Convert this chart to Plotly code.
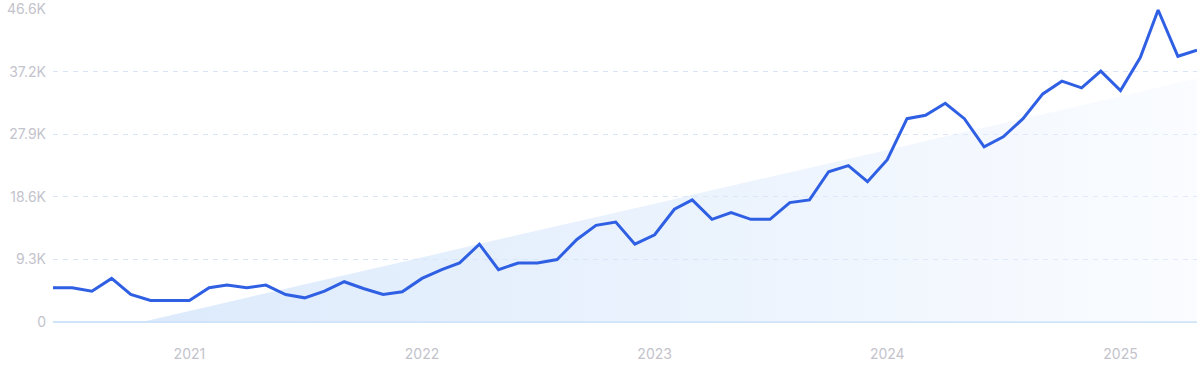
import numpy as np
import pandas as pd
import plotly.graph_objects as go

months = pd.date_range("2020-06-01", "2025-05-01", freq="MS")
values_k = [
    5.1, 5.1, 4.6, 6.5, 4.1, 3.2, 3.2, 3.2, 5.1, 5.5,
    5.1, 5.5, 4.1, 3.6, 4.6, 6.0, 5.0, 4.1, 4.5, 6.5,
    7.8, 8.8, 11.6, 7.8, 8.8, 8.8, 9.3, 12.3, 14.4, 14.9,
    11.6, 13.0, 16.8, 18.2, 15.3, 16.3, 15.3, 15.3, 17.8, 18.2,
    22.4, 23.3, 20.9, 24.2, 30.3, 30.8, 32.6, 30.3, 26.1, 27.6,
    30.3, 34.0, 35.9, 34.9, 37.4, 34.5, 39.4, 46.5, 39.6, 40.5,
]
values = [v * 1000 for v in values_k]

y_tick_vals = [0, 9320, 18640, 27960, 37280, 46600]
y_tick_text = ["0", "9.3K", "18.6K", "27.9K", "37.2K", "46.6K"]
x_tick_vals = ["2021-01-01", "2022-01-01", "2023-01-01", "2024-01-01", "2025-01-01"]
x_tick_text = ["2021", "2022", "2023", "2024", "2025"]

# linear trend (least squares)
idx = np.arange(len(values))
slope, intercept = np.polyfit(idx, values, 1)
trend = slope * idx + intercept

fig = go.Figure()
fig.add_trace(go.Scatter(
    x=months, y=trend, mode="lines", line=dict(width=0, color="rgba(0,0,0,0)"),
    fill="tozeroy",
    fillgradient=dict(type="horizontal",
                      colorscale=[[0, "rgba(205,225,250,0.75)"],
                                  [0.6, "rgba(220,234,252,0.55)"],
                                  [1, "rgba(240,246,255,0.35)"]]),
    hoverinfo="skip", showlegend=False,
))
fig.add_trace(go.Scatter(
    x=months, y=values, mode="lines",
    line=dict(color="#2f5fe3", width=3),
    showlegend=False,
))

fig.update_layout(
    width=1200, height=371,
    margin=dict(l=53, r=3, t=9, b=49),
    paper_bgcolor="white", plot_bgcolor="white",
    font=dict(family="Inter, Roboto, sans-serif", size=14, color="#c3c3cc"),
)
fig.update_xaxes(
    range=[months[0], months[-1]],
    tickvals=x_tick_vals, ticktext=x_tick_text,
    showgrid=False, zeroline=False, showline=False,
    ticks="", ticklabelstandoff=22, automargin=False,
    tickfont=dict(size=14, color="#c3c3cc"),
)
fig.update_yaxes(
    range=[0, 46650],
    tickvals=y_tick_vals, ticktext=y_tick_text,
    showgrid=True, gridcolor="#d9e4f7", griddash="5px,5px", gridwidth=1,
    zeroline=True, zerolinecolor="#cfe4f8", zerolinewidth=1.5,
    showline=False, ticks="", ticklabelstandoff=6, automargin=False,
    tickfont=dict(size=14, color="#c3c3cc"),
)

fig.write_html(
    "out.html",
    config={"displayModeBar": False},
    post_script="document.body.style.margin='0';document.body.style.overflow='hidden';",
)
